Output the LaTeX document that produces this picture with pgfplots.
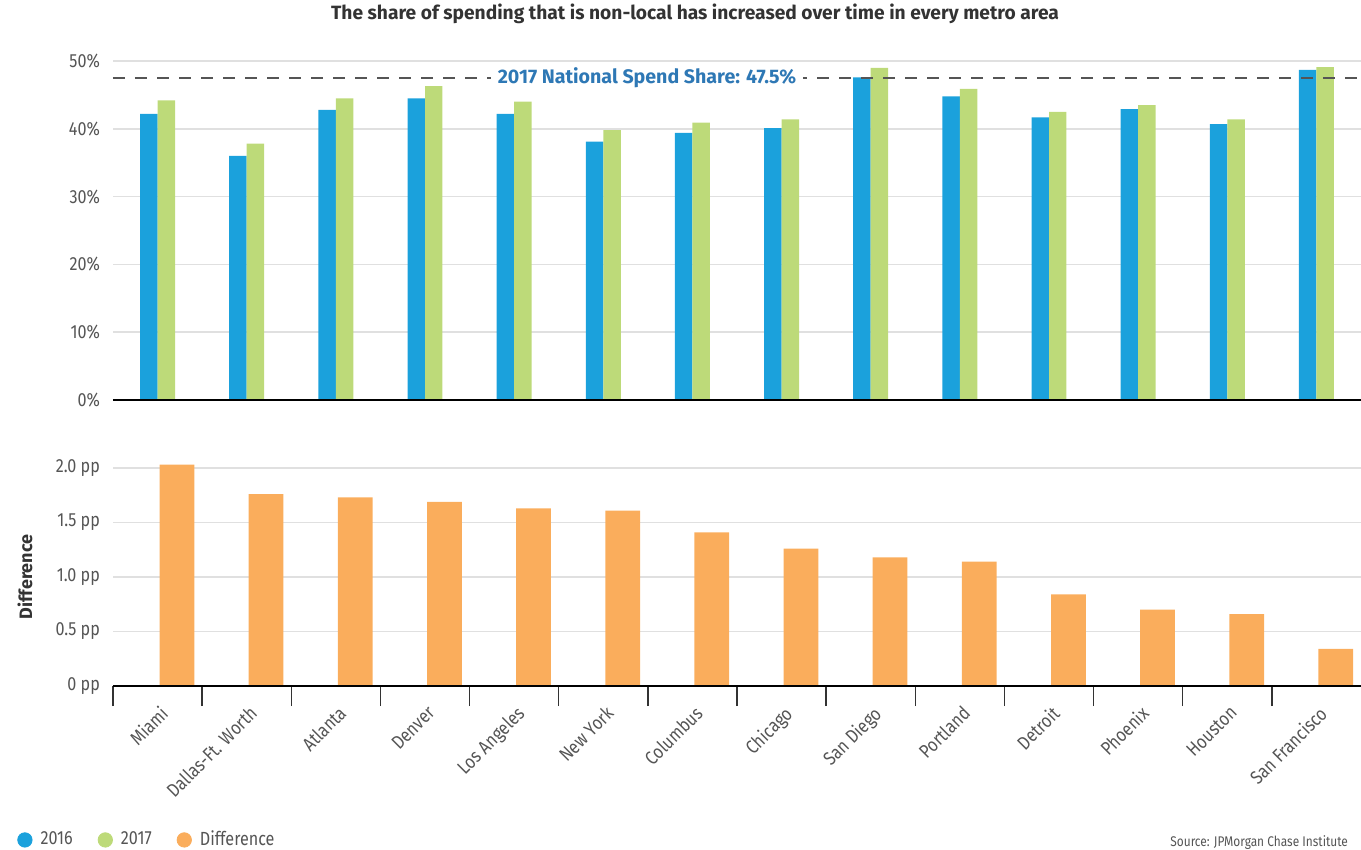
\documentclass[border=0pt]{standalone}
\usepackage{fontspec}
\setmainfont{Fira Sans}[FakeStretch=0.85]
\newfontfamily\boldfam{Fira Sans}
\usepackage{pgfplots}
\pgfplotsset{compat=1.18}
\definecolor{cblue}{HTML}{1BA1DC}
\definecolor{cgreen}{HTML}{BDDA79}
\definecolor{corange}{HTML}{FAAD5C}
\definecolor{clabel}{HTML}{2E78B5}
\definecolor{cgrid}{HTML}{E0E0E0}
\definecolor{ctick}{HTML}{555555}
\definecolor{ctitle}{HTML}{333333}
\newcommand{\tf}{\fontsize{9.5}{11}\selectfont}
\pgfplotsset{
  common/.style={
    anchor=south west, scale only axis, width=624pt,
    xmin=-0.5, xmax=13.5, clip=false,
    axis line style={draw=none},
    major tick length=0pt,
    ymajorgrids, major grid style={cgrid, line width=0.75pt},
    tick label style={font=\tf, text=ctick},
    yticklabel style={xshift=-3pt},
  }
}
\begin{document}
\begin{tikzpicture}
\useasboundingbox (0,0) rectangle (680.5pt,-425pt);
\node[font=\fontsize{9.6}{11}\selectfont\boldfam\bfseries, text=ctitle] at (347.5pt,-7pt) {The share of spending that is non-local has increased over time in every metro area};
% top axis
\begin{axis}[common,
  at={(56.5pt,-200pt)}, height=169.5pt,
  ymin=0, ymax=50,
  ytick={0,10,20,30,40,50},
  yticklabels={0\%,10\%,20\%,30\%,40\%,50\%},
  xtick=\empty,
  ybar=0pt, bar width=0.196,
]
\addplot[fill=cblue, draw=none] coordinates {
(0,42.2) (1,36.0) (2,42.8) (3,44.5) (4,42.2) (5,38.1) (6,39.4) (7,40.1)
(8,47.6) (9,44.8) (10,41.7) (11,42.9) (12,40.7) (13,48.7)};
\addplot[fill=cgreen, draw=none] coordinates {
(0,44.2) (1,37.8) (2,44.5) (3,46.3) (4,44.0) (5,39.8) (6,40.9) (7,41.4)
(8,49.0) (9,45.9) (10,42.5) (11,43.5) (12,41.4) (13,49.1)};
\addplot[sharp plot, draw=ctick, line width=0.75pt, dash pattern=on 6pt off 5pt] coordinates {(-0.5,47.5) (13.5,47.5)};
\draw[black, line width=0.9pt] (axis cs:-0.5,0) -- (axis cs:13.5,0);
\node[fill=white, inner xsep=3.5pt, inner ysep=1pt, text=clabel, font=\fontsize{9.8}{11}\selectfont\boldfam\bfseries] at (axis cs:5.49,47.5) {2017 National Spend Share: 47.5\%};
\end{axis}
% bottom axis
\begin{axis}[common,
  at={(56.5pt,-343pt)}, height=114.45pt,
  ymin=0, ymax=2.1,
  ytick={0,0.5,1,1.5,2},
  yticklabels={0 pp,0.5 pp,1.0 pp,1.5 pp,2.0 pp},
  xtick={0,...,13},
  xticklabels={Miami,Dallas-Ft. Worth,Atlanta,Denver,Los Angeles,New York,Columbus,Chicago,San Diego,Portland,Detroit,Phoenix,Houston,San Francisco},
  xticklabel style={rotate=45, anchor=north east, inner sep=0pt, xshift=-6pt, yshift=-7pt},
  extra x ticks={-0.5,0.5,...,12.5},
  extra x tick labels={},
  extra x tick style={major tick length=10pt, tick align=outside, xtick pos=bottom, tick style={ctitle, line width=0.75pt}},
  ybar, bar width=0.39,
  legend style={draw=none, fill=none, legend columns=3, at={(axis description cs:-0.077,-0.6725)}, anchor=west,
     font=\tf, text=ctick, inner sep=0pt, nodes={inner sep=1.5pt},
     /tikz/every odd column/.append style={column sep=2.5pt},
     /tikz/every even column/.append style={column sep=11pt}},
]
\addplot[fill=corange, draw=none, forget plot] coordinates {
(0,2.03) (1,1.76) (2,1.73) (3,1.69) (4,1.63) (5,1.61) (6,1.41) (7,1.26)
(8,1.18) (9,1.14) (10,0.84) (11,0.70) (12,0.66) (13,0.34)};
\draw[black, line width=0.9pt] (axis cs:-0.5,0) -- (axis cs:13.5,0);
\addlegendimage{legend image code/.code={\fill[cblue] (3.5pt,0pt) circle (3.6pt);}}
\addlegendentry{2016}
\addlegendimage{legend image code/.code={\fill[cgreen] (3.5pt,0pt) circle (3.6pt);}}
\addlegendentry{2017}
\addlegendimage{legend image code/.code={\fill[corange] (3.5pt,0pt) circle (3.6pt);}}
\addlegendentry{Difference}
\end{axis}
\node[rotate=90, font=\fontsize{9}{10}\selectfont\boldfam\bfseries, text=ctitle] at (12.5pt,-288.5pt) {Difference};
\node[anchor=east, font=\fontsize{7}{8}\selectfont, text=ctick] at (677.5pt,-421.5pt) {Source: JPMorgan Chase Institute};
\end{tikzpicture}
\end{document}
